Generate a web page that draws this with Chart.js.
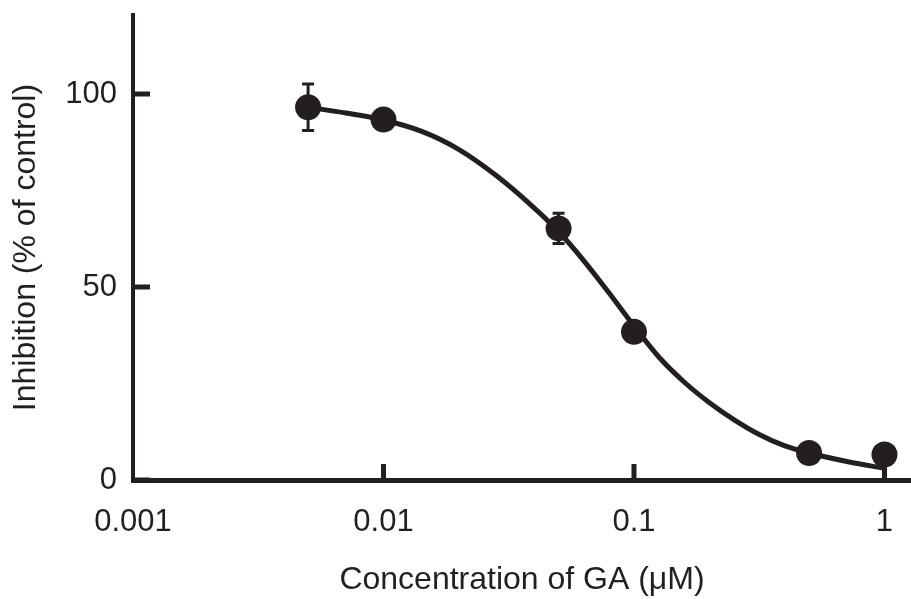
<!DOCTYPE html>
<html><head><meta charset="utf-8">
<script src="https://cdn.jsdelivr.net/npm/chart.js@4"></script>
<style>html,body{margin:0;padding:0;background:#fff}</style>
</head><body>
<canvas id="c" width="911" height="599"></canvas>
<script>
// measured data (concentration in µM, inhibition in % of control)
const concentrations = [0.005, 0.01, 0.05, 0.1, 0.5, 1];
const inhibition = [96.6, 93.4, 65.2, 38.4, 7.0, 6.6];
const inhibitionErr = [6.0, 2.0, 3.9, 0, 0, 0];
// fitted curve, points
const fitX = [0.005, 0.00708, 0.01, 0.01413, 0.01995, 0.02818, 0.03981, 0.05, 0.0631, 0.07943, 0.1, 0.1259, 0.1585, 0.1995, 0.2512, 0.3162, 0.3981, 0.5, 0.7079, 1];
const fitY = [96.6, 95.1, 93.3, 90.4, 85.7, 78.9, 70.6, 64.4, 56.8, 48.5, 39.9, 31.8, 25.4, 20.1, 15.6, 11.8, 8.9, 7.0, 4.8, 3.0];
const xTicks = [0.001, 0.01, 0.1, 1];
const xTickLabels = ['0.001', '0.01', '0.1', '1'];
const yTicks = [0, 50, 100];
const yTickLabels = ['0', '50', '100'];

const ink = '#231f20';
const FONT = 'Liberation Sans, Arial, Helvetica, sans-serif';

const decor = {
  id: 'decor',
  beforeDatasetsDraw(chart) {
    const {ctx, scales: {x, y}} = chart;
    ctx.save();
    ctx.strokeStyle = ink;
    ctx.lineWidth = 3;
    concentrations.forEach((c, i) => {
      const e = inhibitionErr[i];
      if (!e) return;
      const px = x.getPixelForValue(c);
      const top = y.getPixelForValue(inhibition[i] + e);
      const bot = y.getPixelForValue(inhibition[i] - e);
      ctx.beginPath();
      ctx.moveTo(px, top); ctx.lineTo(px, bot);
      ctx.moveTo(px - 6, top); ctx.lineTo(px + 6, top);
      ctx.moveTo(px - 6, bot); ctx.lineTo(px + 6, bot);
      ctx.stroke();
    });
    ctx.restore();
  },
  afterDraw(chart) {
    const {ctx, chartArea, scales: {x, y}} = chart;
    ctx.save();
    ctx.strokeStyle = ink;
    ctx.lineWidth = 5;
    ctx.beginPath();
    yTicks.forEach(v => {
      const py = y.getPixelForValue(v);
      ctx.moveTo(chartArea.left, py); ctx.lineTo(chartArea.left + 17, py);
    });
    xTicks.slice(1).forEach(v => {
      const px = x.getPixelForValue(v);
      ctx.moveTo(px, chartArea.bottom); ctx.lineTo(px, chartArea.bottom - 16);
    });
    ctx.stroke();
    ctx.restore();
  }
};

new Chart(document.getElementById('c'), {
  type: 'line',
  data: {
    datasets: [
      {
        data: concentrations.map((c, i) => ({x: c, y: inhibition[i]})),
        showLine: false,
        pointRadius: 13,
        pointHoverRadius: 13,
        pointBackgroundColor: ink,
        pointBorderColor: ink,
        pointBorderWidth: 0,
        order: 0,
        clip: false
      },
      {
        data: fitX.map((c, i) => ({x: c, y: fitY[i]})),
        borderColor: ink,
        borderWidth: 5,
        pointRadius: 0,
        cubicInterpolationMode: 'monotone',
        fill: false,
        order: 1
      }
    ]
  },
  options: {
    responsive: false,
    animation: false,
    devicePixelRatio: 1,
    layout: {autoPadding: false, padding: {top: 15, left: 0, right: 0, bottom: 0}},
    plugins: {legend: {display: false}, tooltip: {enabled: false}},
    scales: {
      x: {
        type: 'logarithmic',
        min: 0.001,
        max: 1.276,
        afterBuildTicks: s => { s.ticks = xTicks.map(v => ({value: v})); },
        afterFit: s => { s.height = 119; s.paddingLeft = 0; s.paddingRight = 0; },
        ticks: {
          autoSkip: false, maxRotation: 0,
          color: ink, padding: 24,
          font: {family: FONT, size: 31},
          callback: (v, i) => xTickLabels[i]
        },
        grid: {display: false, drawTicks: false},
        border: {display: true, color: ink, width: 5},
        title: {
          display: true, text: 'Concentration of GA (μM)', color: ink,
          font: {family: FONT, size: 32}, padding: {top: 0, bottom: 0}
        }
      },
      y: {
        type: 'linear',
        min: 0,
        max: 120.5,
        afterBuildTicks: s => { s.ticks = yTicks.map(v => ({value: v})); },
        afterFit: s => { s.width = 133; s.paddingTop = 0; s.paddingBottom = 0; },
        ticks: {
          color: ink, padding: 16,
          font: {family: FONT, size: 31},
          callback: (v, i) => yTickLabels[i]
        },
        grid: {display: false, drawTicks: false},
        border: {display: true, color: ink, width: 4},
        title: {
          display: true, text: 'Inhibition (% of control)', color: ink,
          font: {family: FONT, size: 32}, padding: {top: 7, bottom: 0}
        }
      }
    }
  },
  plugins: [decor]
});
</script>
</body></html>
